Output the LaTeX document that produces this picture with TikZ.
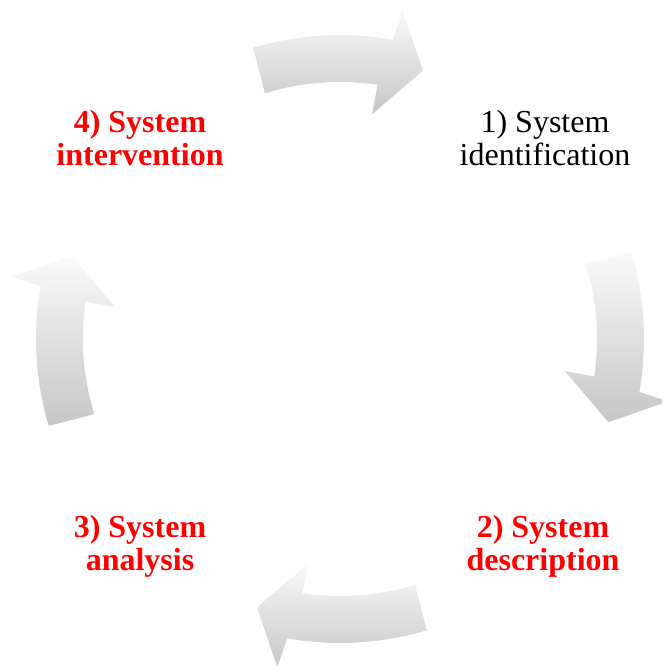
\documentclass[tikz,border=0pt]{standalone}
\usepackage{fontspec}
\setmainfont{Liberation Serif}
\begin{document}
\begin{tikzpicture}[x=1pt,y=1pt,
  cyclearrow/.style={top color={rgb,255:red,250;green,250;blue,250},
                     bottom color={rgb,255:red,198;green,198;blue,198}},
  stagelabel/.style={align=center,inner sep=0pt,
                     font=\fontsize{32}{33}\selectfont},
  hot/.style={stagelabel,text={rgb,255:red,255;green,0;blue,0},font=\fontsize{32}{33}\selectfont\bfseries}]
\useasboundingbox (-340,-327) rectangle (322,339);
\clip (-340,-327) rectangle (322,339);
% four curved arrows running clockwise round the cycle
\foreach \a in {90,0,-90,180}{
  \path[cyclearrow]
    (\a+16.6:304) arc[start angle=\a+16.6, end angle=\a-10, radius=304]
    -- (\a-10.8:334) -- (\a-17.2:281) -- (\a-8.1:227) -- (\a-8.4:257)
    arc[start angle=\a-8.4, end angle=\a+17, radius=257] -- cycle;
}
% stage labels
\node[stagelabel] (identification) at (205,201) {1) System\\identification};
\node[hot] (description) at (203,-207) {2) System\\description};
\node[hot] (analysis) at (-200,-207) {3) System\\analysis};
\node[hot] (intervention) at (-200,201) {4) System\\intervention};
\end{tikzpicture}
\end{document}
